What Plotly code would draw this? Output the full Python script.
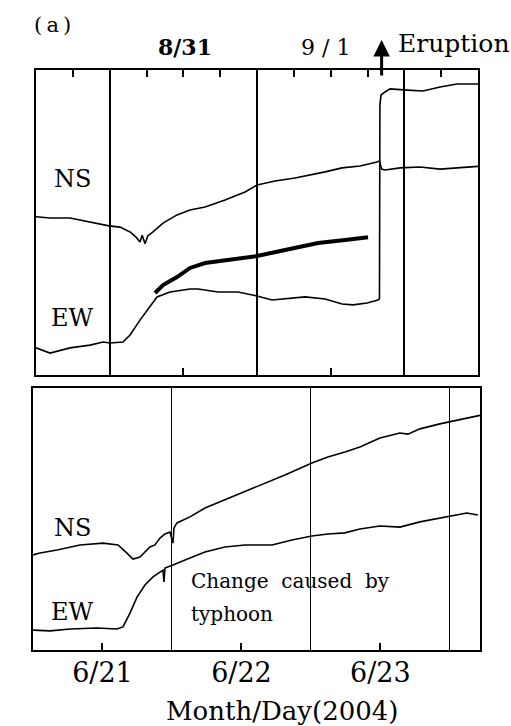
import plotly.graph_objects as go
import pandas as pd

# ---------------- data ----------------
# Top panel: hours since 2004-08-30 00:00, tilt (arbitrary units)
top_base = pd.Timestamp("2004-08-30 00:00")
ns_top_h = [12.0, 14.28, 17.54, 20.80, 23.89, 25.69, 27.32, 28.3, 28.94, 29.3, 29.76, 30.2, 31.06,
            32.69, 34.97, 37.09, 39.54, 42.79, 46.05, 48.01, 50.94, 54.20, 56.97, 59.09,
            61.86, 64.79, 67.56, 67.95, 68.3, 68.86, 71.31, 74.56, 77.82, 80.5, 84.0]
ns_top_v = [51.9, 51.5, 51.5, 50.2, 48.9, 48.5, 46.9, 45.2, 43.6, 45.8, 43.0, 45.6, 46.9,
            49.8, 52.5, 54.1, 55.1, 57.4, 60.0, 62.3, 63.6, 64.6, 65.6, 66.6,
            67.9, 68.5, 69.8, 70.2, 67.5, 67.2, 67.9, 68.2, 67.5, 67.9, 68.4]

ew_top_h = [12.0, 14.28, 17.54, 20.80, 22.92, 24.06, 26.17, 27.32, 28.94, 30.09, 31.71, 33.83,
            37.09, 38.39, 41.65, 44.91, 48.01, 50.45, 52.57, 55.83, 59.09, 61.86, 63.65,
            65.93, 67.72, 67.95, 68.02, 68.2, 68.86, 69.68, 72.45, 75.05, 77.82, 80.59, 84.0]
ew_top_v = [8.9, 7.2, 8.9, 9.8, 10.8, 10.5, 10.8, 13.1, 18.0, 21.3, 25.6, 27.2,
            28.2, 28.2, 27.2, 27.2, 25.9, 24.6, 24.9, 25.6, 24.9, 23.3, 23.0,
            23.6, 24.6, 25.0, 88.5, 91.8, 92.8, 93.8, 93.4, 93.1, 94.4, 95.4, 95.4]

bold_top_h = [31.39, 32.69, 34.97, 37.09, 39.54, 42.79, 48.01, 52.57, 57.95, 62.35, 66.09]
bold_top_v = [26.9, 29.5, 32.1, 35.1, 36.7, 37.7, 39.0, 41.0, 43.3, 44.3, 45.2]

eruption_h = 68.0

# Bottom panel: hours since 2004-06-21 00:00
bot_base = pd.Timestamp("2004-06-21 00:00")
ns_bot_h = [0.0, 1.21, 4.14, 8.12, 12.09, 14.68, 16.23, 17.27, 18.47, 20.20, 21.06, 21.93,
            22.79, 23.65, 24.17, 24.35, 24.86, 27.11, 29.70, 33.15, 36.60, 40.06, 43.51,
            48.17, 50.93, 53.87, 56.46, 59.91, 63.37, 64.75, 66.82, 70.27, 72.34, 74.93, 77.52]
ns_bot_v = [36.3, 37.0, 38.2, 40.1, 40.8, 40.1, 37.0, 34.7, 35.5, 39.3, 40.1, 42.7,
            44.3, 45.0, 40.8, 46.6, 48.5, 50.8, 54.2, 57.3, 60.3, 63.7, 66.8,
            71.4, 73.7, 75.6, 77.5, 80.9, 82.8, 82.4, 84.4, 86.3, 87.4, 88.5, 89.7]

ew_bot_h = [0.0, 2.94, 6.39, 11.05, 14.50, 15.54, 16.75, 17.96, 19.34, 20.72, 22.45, 22.62,
            22.79, 24.17, 27.11, 29.70, 33.15, 36.60, 41.27, 44.72, 48.17, 50.93, 53.87,
            56.46, 59.91, 63.37, 66.82, 70.27, 72.52, 74.93, 76.83]
ew_bot_v = [7.6, 7.3, 8.0, 8.4, 8.0, 8.8, 14.1, 20.2, 24.8, 27.9, 30.5, 26.0,
            31.3, 32.4, 35.1, 37.4, 39.3, 40.1, 40.1, 42.0, 43.5, 44.3, 44.7,
            46.2, 47.3, 46.9, 48.9, 50.4, 51.5, 52.3, 51.5]

top_labels = ["<b>8/31</b>", "9 / 1"]
bot_labels = ["6/21", "6/22", "6/23"]


def to_time(base, hours):
    return [base + pd.Timedelta(hours=h) for h in hours]


FONT = "DejaVu Serif"
BLK = "black"
LW = 1.6

fig = go.Figure()
fig.add_trace(go.Scatter(x=to_time(top_base, ns_top_h), y=ns_top_v, mode="lines",
                         line=dict(color=BLK, width=LW), xaxis="x", yaxis="y"))
fig.add_trace(go.Scatter(x=to_time(top_base, ew_top_h), y=ew_top_v, mode="lines",
                         line=dict(color=BLK, width=LW), xaxis="x", yaxis="y"))
fig.add_trace(go.Scatter(x=to_time(top_base, bold_top_h), y=bold_top_v, mode="lines",
                         line=dict(color=BLK, width=4), xaxis="x3", yaxis="y"))
fig.add_trace(go.Scatter(x=to_time(bot_base, ns_bot_h), y=ns_bot_v, mode="lines",
                         line=dict(color=BLK, width=LW), xaxis="x2", yaxis="y2"))
fig.add_trace(go.Scatter(x=to_time(bot_base, ew_bot_h), y=ew_bot_v, mode="lines",
                         line=dict(color=BLK, width=LW), xaxis="x5", yaxis="y2"))
# empty trace so that the thin tick strip subplot is created
fig.add_trace(go.Scatter(x=[], y=[], mode="lines", xaxis="x6", yaxis="y6",
                         hoverinfo="skip"))

W, H = 511, 726
top_dom_x = [36 / W, 478 / W]
top_dom_y = [1 - 375 / H, 1 - 70 / H]
tick_strip_y = [1 - 77 / H, 1 - 70 / H]      # thin strip under the top edge for 6-h ticks
bot_dom_x = [33 / W, 480 / W]
bot_dom_y = [1 - 650 / H, 1 - 388 / H]

top_range = [top_base + pd.Timedelta(hours=12), top_base + pd.Timedelta(hours=84)]
bot_range = [bot_base, bot_base + pd.Timedelta(hours=77.2)]

top_mid = [top_base + pd.Timedelta(days=d) for d in (1, 2, 3)]
top_noon = [top_base + pd.Timedelta(days=d, hours=12) for d in (1, 2)]
top_6h = [top_base + pd.Timedelta(hours=h) for h in range(18, 84, 6)]
bot_mid = [bot_base + pd.Timedelta(days=d) for d in (1, 2, 3)]
bot_noon = [bot_base + pd.Timedelta(days=d, hours=12) for d in (0, 1, 2)]

plain = dict(zeroline=False, fixedrange=True)
tick_style = dict(ticklen=7, tickwidth=1.6, tickcolor=BLK)

fig.update_layout(
    width=W, height=H, margin=dict(l=0, r=0, t=0, b=0),
    paper_bgcolor="white", plot_bgcolor="rgba(0,0,0,0)", showlegend=False,
    font=dict(family=FONT, color=BLK),
    # top panel: main axis carries the frame and midnight lines
    xaxis=dict(domain=top_dom_x, anchor="y", range=top_range, type="date",
               tickmode="array", tickvals=top_mid, showticklabels=False, ticks="",
               showgrid=True, gridcolor=BLK, gridwidth=1.5,
               showline=True, linecolor=BLK, linewidth=2.4, mirror=True, **plain),
    # noon ticks on the bottom edge
    xaxis3=dict(overlaying="x", side="bottom", anchor="y", range=top_range, type="date",
                tickmode="array", tickvals=top_noon, showticklabels=False, ticks="inside",
                showline=False, showgrid=False, **tick_style, **plain),
    yaxis=dict(domain=top_dom_y, anchor="x", range=[0, 100], showticklabels=False,
               ticks="", showline=True, linecolor=BLK, linewidth=2.4, mirror=True,
               showgrid=False, **plain),
    # 6-hour tick marks along the top edge, drawn as short grid lines of a thin strip
    xaxis6=dict(domain=top_dom_x, anchor="y6", range=top_range, type="date",
                tickmode="array", tickvals=top_6h, showticklabels=False, ticks="",
                showgrid=True, gridcolor=BLK, gridwidth=1.6, showline=False, **plain),
    yaxis6=dict(domain=tick_strip_y, anchor="x6", range=[0, 1], showticklabels=False,
                ticks="", showgrid=False, showline=False, **plain),
    # bottom panel
    xaxis2=dict(domain=bot_dom_x, anchor="y2", range=bot_range, type="date",
                tickmode="array", tickvals=bot_mid, showticklabels=False, ticks="",
                showgrid=True, gridcolor=BLK, gridwidth=1.3,
                showline=True, linecolor=BLK, linewidth=1.9, mirror=True, **plain),
    xaxis5=dict(overlaying="x2", side="bottom", anchor="y2", range=bot_range, type="date",
                tickmode="array", tickvals=bot_noon, ticktext=bot_labels, ticks="inside",
                tickfont=dict(family=FONT, size=27, color=BLK), ticklabelstandoff=4,
                showline=False, showgrid=False, **tick_style, **plain),
    yaxis2=dict(domain=bot_dom_y, anchor="x2", range=[0, 100], showticklabels=False,
                ticks="", showline=True, linecolor=BLK, linewidth=1.9, mirror=True,
                showgrid=False, **plain),
)

ann = []


def txt(x, y, s, size, xanchor="center"):
    ann.append(dict(x=x, y=y, xref="paper", yref="paper", text=s, showarrow=False,
                    xanchor=xanchor, yanchor="middle",
                    font=dict(family=FONT, size=size, color=BLK)))


txt(52 / W, 1 - 25 / H, "(\u2009a\u2009)", 21)
for lab, xp in zip(top_labels, [185, 325]):
    txt(xp / W, 1 - 47 / H, lab, 22)
txt(396 / W, 1 - 44 / H, "Eruption", 25, xanchor="left")
txt(72 / W, 1 - 179 / H, "NS", 24)
txt(72 / W, 1 - 318 / H, "EW", 24)
txt(72 / W, 1 - 528 / H, "NS", 24)
txt(72 / W, 1 - 612 / H, "EW", 24)
txt(189 / W, 1 - 581 / H, "Change\u00a0\u00a0caused\u00a0\u00a0by", 20, xanchor="left")
txt(189 / W, 1 - 614 / H, "typhoon", 20, xanchor="left")
txt(282 / W, 1 - 711 / H, "Month/Day(2004)", 26)

# eruption arrow
ann.append(dict(x=top_base + pd.Timedelta(hours=eruption_h + 0.3), y=1 - 40 / H,
                xref="x", yref="paper", ax=0, ay=37, axref="pixel", ayref="pixel",
                text="", showarrow=True, arrowhead=2, arrowsize=1.1, arrowwidth=3,
                arrowcolor=BLK))

fig.update_layout(annotations=ann)
fig.write_html("out.html")
